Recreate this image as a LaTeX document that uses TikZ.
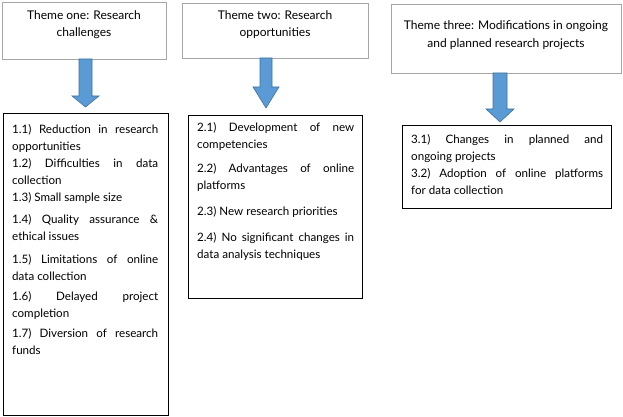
\documentclass[tikz,border=0pt]{standalone}
\usepackage{fontspec}
\setmainfont{Lato}
\usetikzlibrary{calc}
\definecolor{arrowfill}{HTML}{5B9BD5}
\definecolor{arrowline}{HTML}{41719C}
\definecolor{themegray}{HTML}{A6A6A6}
\newcommand{\listsetup}{\hyphenpenalty=10000 \tolerance=9999 \relax}
\begin{document}
\begin{tikzpicture}[x=1pt,y=-1pt,
  themebox/.style={draw=themegray, line width=0.9pt, fill=white, anchor=north west, inner sep=0pt},
  listbox/.style={draw=black, line width=0.9pt, anchor=north west, inner sep=0pt},
  themetext/.style={align=center, inner sep=0pt, font=\fontsize{12}{17.5}\selectfont},
  listtext/.style={anchor=north west, inner sep=0pt, align=justify, font=\fontsize{11.6}{17}\selectfont},
  blockarrow/.style={fill=arrowfill, draw=arrowline, line width=0.6pt}]
\useasboundingbox (0,0) rectangle (623,417);
\fill[white] (0,0) rectangle (623,417);

% theme boxes
\node[themebox, minimum width=164pt, minimum height=57pt] (t1) at (2,2) {};
\node[themebox, minimum width=186pt, minimum height=55pt] (t2) at (182,3) {};
\node[themebox, minimum width=230pt, minimum height=69pt] (t3) at (391,4) {};
\node[themetext] (t1l) at (84,24.5) {Theme one: Research\\challenges};
\node[themetext] (t2l) at (275,24.5) {Theme two: Research\\opportunities};
\node[themetext] (t3l) at (506,35) {Theme three: Modifications in ongoing\\and planned research projects};

% list boxes
\node[listbox, minimum width=165pt, minimum height=302pt] (b1) at (3,113) {};
\node[listbox, minimum width=174pt, minimum height=183pt] (b2) at (188,115) {};
\node[listbox, minimum width=209pt, minimum height=83pt] (b3) at (402,125) {};

% arrows
\draw[blockarrow] (79,59) -- (92,59) -- (92,96) -- (99,96) -- (85.5,107) -- (72,96) -- (79,96) -- cycle;
\draw[blockarrow] (260,58) -- (272,58) -- (272,87) -- (279,87) -- (266,108) -- (253,87) -- (260,87) -- cycle;
\draw[blockarrow] (493,73) -- (507,73) -- (507,109) -- (514,109) -- (500,122) -- (486,109) -- (493,109) -- cycle;

% list texts
\node[listtext, text width=146pt] (b1l) at (12,124) {\listsetup
1.1) Reduction in research\linebreak opportunities\par
1.2) Difficulties in data\linebreak collection\par
1.3) Small sample size\par\vspace{5pt}
1.4) Quality assurance \&\linebreak ethical issues\par\vspace{6pt}
1.5) Limitations of online\linebreak data collection\par\vspace{3.5pt}
1.6) Delayed project\linebreak completion\par\vspace{3pt}
1.7) Diversion of research\linebreak funds};
\node[listtext, text width=157pt] (b2l) at (197,122) {\listsetup
2.1) Development of new\linebreak competencies\par\vspace{7pt}
2.2) Advantages of online\linebreak platforms\par\vspace{9pt}
2.3) New research priorities\par\vspace{9pt}
2.4) No significant changes in\linebreak data analysis techniques};
\node[listtext, text width=192pt] (b3l) at (411,134) {\listsetup
3.1) Changes in planned and\linebreak ongoing projects\par
3.2) Adoption of online platforms\linebreak for data collection};
\end{tikzpicture}
\end{document}
